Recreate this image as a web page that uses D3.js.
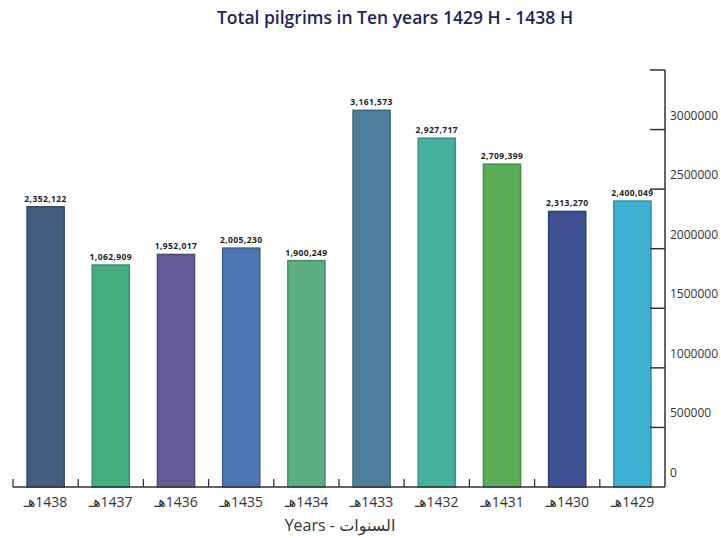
<!DOCTYPE html>
<html>
<head>
<meta charset="utf-8">
<title>Total pilgrims in Ten years</title>
<script src="https://d3js.org/d3.v7.min.js"></script>
<style>
  body { margin: 0; background: #fff; }
  text { font-family: "Open Sans", "DejaVu Sans", sans-serif; }
</style>
</head>
<body>
<svg id="chart" width="721" height="538"></svg>
<script>
// years, left to right as in the picture
var years = ["1438", "1437", "1436", "1435", "1434", "1433", "1432", "1431", "1430", "1429"];
// bar heights (1437 printed as 1,062,909 but drawn near 1.86M)
var pilgrims = [2352122, 1862909, 1952017, 2005230, 1900249, 3161573, 2927717, 2709399, 2313270, 2400049];
// value labels exactly as printed
var valueLabels = ["2,352,122", "1,062,909", "1,952,017", "2,005,230", "1,900,249", "3,161,573", "2,927,717", "2,709,399", "2,313,270", "2,400,049"];
var barColors = ["#435d80", "#45ae80", "#665a98", "#4b76b1", "#5bae80", "#4d7f9d", "#46b19f", "#5aae58", "#3f5093", "#3db0d4"];
var yTicks = [0, 500000, 1000000, 1500000, 2000000, 2500000, 3000000];

var svg = d3.select("#chart");
var plotLeft = 13, plotRight = 665, plotTop = 70, plotBottom = 487;

var x = d3.scaleBand()
    .domain(years)
    .range([plotLeft, plotRight])
    .paddingInner(0.43)
    .paddingOuter(0.215);

var y = d3.scaleLinear()
    .domain([0, 3500000])
    .range([plotBottom, plotTop]);

// title
svg.append("text")
    .attr("x", 395).attr("y", 24)
    .attr("text-anchor", "middle")
    .style("font-size", "17.5px")
    .style("font-weight", "600")
    .style("fill", "#1e2656")
    .text("Total pilgrims in Ten years 1429 H - 1438 H");

// bars
svg.selectAll("rect.bar")
    .data(years)
    .enter().append("rect")
    .attr("class", "bar")
    .attr("x", function(d) { return x(d); })
    .attr("width", x.bandwidth())
    .attr("y", function(d, i) { return y(pilgrims[i]); })
    .attr("height", function(d, i) { return plotBottom - y(pilgrims[i]); })
    .style("fill", function(d, i) { return barColors[i]; })
    .style("stroke", function(d, i) { return d3.color(barColors[i]).darker(0.6); })
    .style("stroke-width", 1.5);

// value labels
svg.selectAll("text.val")
    .data(years)
    .enter().append("text")
    .attr("class", "val")
    .attr("x", function(d) { return x(d) + x.bandwidth() / 2; })
    .attr("y", function(d, i) { return y(pilgrims[i]) - 5; })
    .attr("text-anchor", "middle")
    .style("font-size", "8.5px")
    .style("font-weight", "bold")
    .style("letter-spacing", "0.4px")
    .style("fill", "#222")
    .text(function(d, i) { return valueLabels[i]; });

// right axis
var axisG = svg.append("g");
axisG.append("line")
    .attr("x1", plotRight).attr("x2", plotRight)
    .attr("y1", plotTop).attr("y2", plotBottom)
    .style("stroke", "#333").style("stroke-width", 1.5);
axisG.selectAll("line.tick")
    .data(yTicks.slice(1).concat([3500000]))
    .enter().append("line")
    .attr("class", "tick")
    .attr("x1", plotRight - 15).attr("x2", plotRight)
    .attr("y1", function(d) { return y(d); })
    .attr("y2", function(d) { return y(d); })
    .style("stroke", "#333").style("stroke-width", 1.5);
axisG.selectAll("text")
    .data(yTicks)
    .enter().append("text")
    .attr("x", plotRight + 5)
    .attr("y", function(d) { return y(d) - 10; })
    .style("font-size", "12px")
    .style("fill", "#333")
    .text(function(d) { return d; });

// bottom axis with small upward ticks between the bars
svg.append("line")
    .attr("x1", plotLeft).attr("x2", plotRight)
    .attr("y1", plotBottom).attr("y2", plotBottom)
    .style("stroke", "#333").style("stroke-width", 1.5);
var bounds = years.map(function(d) { return x(d) - (x.step() - x.bandwidth()) / 2; });
svg.selectAll("line.xtick")
    .data(bounds)
    .enter().append("line")
    .attr("class", "xtick")
    .attr("x1", function(d) { return d; })
    .attr("x2", function(d) { return d; })
    .attr("y1", plotBottom).attr("y2", plotBottom - 8)
    .style("stroke", "#333").style("stroke-width", 1.3);

svg.selectAll("text.year")
    .data(years)
    .enter().append("text")
    .attr("class", "year")
    .attr("x", function(d) { return x(d) + x.bandwidth() / 2; })
    .attr("y", 507)
    .attr("text-anchor", "middle")
    .style("font-size", "14px")
    .style("fill", "#333")
    .text(function(d) { return "\u202B" + d + "هـ\u202C"; });

svg.append("text")
    .attr("x", 340).attr("y", 531)
    .attr("text-anchor", "middle")
    .style("font-size", "16px")
    .style("fill", "#333")
    .text("Years - السنوات");
</script>
</body>
</html>
